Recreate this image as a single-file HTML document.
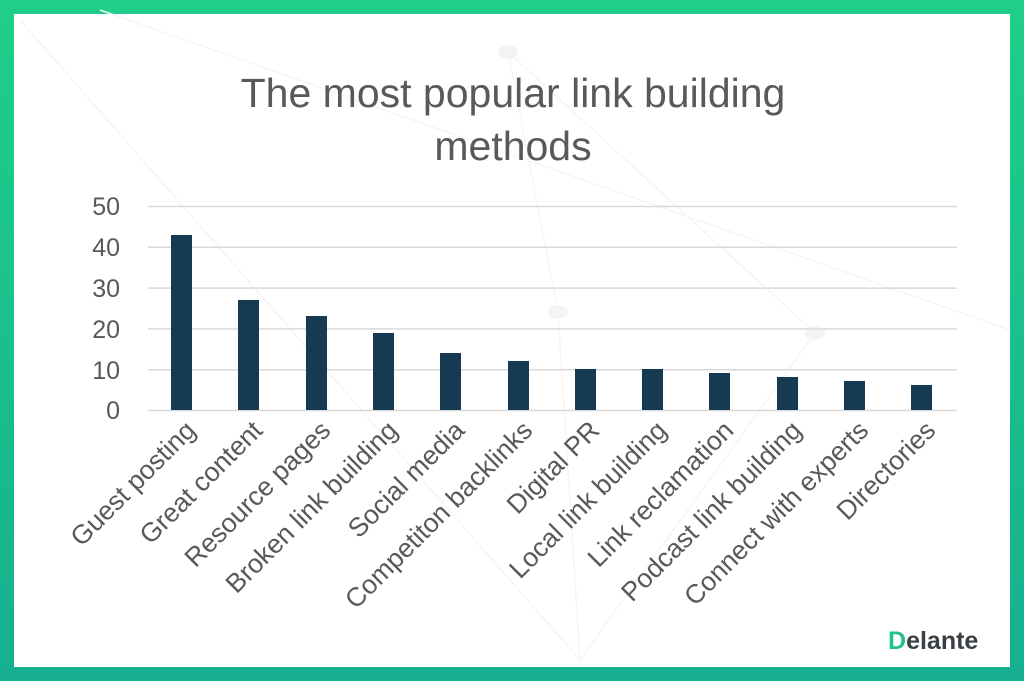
<!DOCTYPE html>
<html><head><style>
body{margin:0;width:1024px;height:681px;overflow:hidden;background:#fff;}
</style></head><body>
<svg width="1024" height="681" viewBox="0 0 1024 681" xmlns="http://www.w3.org/2000/svg" font-family="Liberation Sans, sans-serif">
<defs><linearGradient id="g" x1="0" y1="0" x2="0" y2="1"><stop offset="0" stop-color="#1fcf88"/><stop offset="1" stop-color="#16b090"/></linearGradient></defs>
<rect x="0" y="0" width="1024" height="681" fill="url(#g)"/>
<rect x="14" y="14" width="996" height="653" fill="#fff"/>
<g stroke="#f5f5f5" stroke-width="1.5" fill="none">
<line x1="20" y1="20" x2="580" y2="660"/><line x1="100" y1="10" x2="1010" y2="330"/>
<line x1="508" y1="52" x2="815" y2="333"/><line x1="508" y1="52" x2="558" y2="312"/>
<line x1="558" y1="312" x2="580" y2="660"/><line x1="815" y1="333" x2="580" y2="660"/>
</g>
<g fill="#f4f4f4"><ellipse cx="508" cy="52" rx="10" ry="7"/><ellipse cx="558" cy="312" rx="10" ry="7"/><ellipse cx="815" cy="333" rx="10" ry="7"/></g>
<g font-size="41" fill="#595959" text-anchor="middle"><text x="513" y="107">The most popular link building</text><text x="513" y="160">methods</text></g>
<g stroke="#d9d9d9" stroke-width="1.5">
<line x1="148" y1="206.5" x2="957" y2="206.5"/><line x1="148" y1="247.3" x2="957" y2="247.3"/><line x1="148" y1="288.1" x2="957" y2="288.1"/><line x1="148" y1="328.9" x2="957" y2="328.9"/><line x1="148" y1="369.7" x2="957" y2="369.7"/><line x1="148" y1="410.5" x2="957" y2="410.5"/>
</g>
<g font-size="25" fill="#595959" text-anchor="end">
<text x="120" y="215">50</text><text x="120" y="256">40</text><text x="120" y="297">30</text><text x="120" y="338">20</text><text x="120" y="379">10</text><text x="120" y="419">0</text>
</g>
<g fill="#163a52">
<rect x="171" y="235" width="21" height="175"/>
<rect x="238" y="300" width="21" height="110"/>
<rect x="306" y="316" width="21" height="94"/>
<rect x="373" y="333" width="21" height="77"/>
<rect x="440" y="353" width="21" height="57"/>
<rect x="508" y="361" width="21" height="49"/>
<rect x="575" y="369" width="21" height="41"/>
<rect x="642" y="369" width="21" height="41"/>
<rect x="709" y="373" width="21" height="37"/>
<rect x="777" y="377" width="21" height="33"/>
<rect x="844" y="381" width="21" height="29"/>
<rect x="911" y="385" width="21" height="25"/>
</g>
<g font-size="26.5" fill="#595959" text-anchor="end">
<text transform="translate(197,432) rotate(-45)">Guest posting</text>
<text transform="translate(264,432) rotate(-45)">Great content</text>
<text transform="translate(332,432) rotate(-45)">Resource pages</text>
<text transform="translate(399,432) rotate(-45)">Broken link building</text>
<text transform="translate(466,432) rotate(-45)">Social media</text>
<text transform="translate(534,432) rotate(-45)">Competiton backlinks</text>
<text transform="translate(601,432) rotate(-45)">Digital PR</text>
<text transform="translate(668,432) rotate(-45)">Local link building</text>
<text transform="translate(735,432) rotate(-45)">Link reclamation</text>
<text transform="translate(803,432) rotate(-45)">Podcast link building</text>
<text transform="translate(870,432) rotate(-45)">Connect with experts</text>
<text transform="translate(937,432) rotate(-45)">Directories</text>
</g>
<text x="888" y="649" font-size="25" font-weight="bold" fill="#3a3f44"><tspan fill="#22c08a">D</tspan>elante</text>
</svg>
</body></html>
